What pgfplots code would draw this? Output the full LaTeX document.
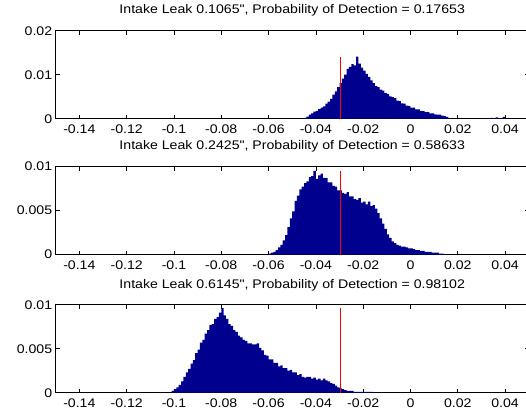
\documentclass[border=0pt]{standalone}
\usepackage{fontspec}
\setmainfont{Liberation Sans}
\newfontfamily\figfont[FakeStretch=1.13]{Liberation Sans}
\usepackage{pgfplots}
\pgfplotsset{compat=1.18}
\usepackage{pgfplotstable}

\definecolor{histblue}{RGB}{0,0,143}

% residual histograms, bin width 0.001 (left bin edge, relative frequency)
\pgfplotstableread{
x y
-0.045 0.0002
-0.044 0.0005
-0.043 0.0009
-0.042 0.0012
-0.041 0.0016
-0.040 0.0018
-0.039 0.0022
-0.038 0.0025
-0.037 0.0028
-0.036 0.0034
-0.035 0.0039
-0.034 0.0045
-0.033 0.0055
-0.032 0.0062
-0.031 0.0072
-0.030 0.0081
-0.029 0.0091
-0.028 0.0100
-0.027 0.0113
-0.026 0.0118
-0.025 0.0124
-0.024 0.0121
-0.023 0.0141
-0.022 0.0125
-0.021 0.0116
-0.020 0.0109
-0.019 0.0102
-0.018 0.0095
-0.017 0.0087
-0.016 0.0081
-0.015 0.0074
-0.014 0.0072
-0.013 0.0066
-0.012 0.0064
-0.011 0.0058
-0.010 0.0056
-0.009 0.0051
-0.008 0.0049
-0.007 0.0047
-0.006 0.0041
-0.005 0.0040
-0.004 0.0035
-0.003 0.0034
-0.002 0.0030
-0.001 0.0029
0.000 0.0025
0.001 0.0025
0.002 0.0021
0.003 0.0021
0.004 0.0018
0.005 0.0017
0.006 0.0015
0.007 0.0015
0.008 0.0012
0.009 0.0012
0.010 0.0010
0.011 0.0009
0.012 0.0009
0.013 0.0007
0.014 0.0006
0.015 0.0004
0.016 0
}\leakA

\pgfplotstableread{
x y
0.031 0
0.032 0.0001
0.033 0
0.034 0.0002
0.035 0.0001
0.036 0.0003
0.037 0.0001
0.038 0
0.039 0.0004
0.040 0
}\leakAtail

\pgfplotstableread{
x y
-0.060 0.0001
-0.059 0.0002
-0.058 0.0003
-0.057 0.0005
-0.056 0.0008
-0.055 0.0011
-0.054 0.0016
-0.053 0.0022
-0.052 0.0031
-0.051 0.0041
-0.050 0.0049
-0.049 0.0061
-0.048 0.0067
-0.047 0.0074
-0.046 0.0077
-0.045 0.0081
-0.044 0.0083
-0.043 0.0088
-0.042 0.0089
-0.041 0.0095
-0.040 0.0086
-0.039 0.0090
-0.038 0.0092
-0.037 0.0087
-0.036 0.0087
-0.035 0.0082
-0.034 0.0082
-0.033 0.0078
-0.032 0.0077
-0.031 0.0073
-0.030 0.0073
-0.029 0.0070
-0.028 0.0069
-0.027 0.0071
-0.026 0.0066
-0.025 0.0066
-0.024 0.0063
-0.023 0.0062
-0.022 0.0064
-0.021 0.0059
-0.020 0.0060
-0.019 0.0057
-0.018 0.0060
-0.017 0.0055
-0.016 0.0056
-0.015 0.0052
-0.014 0.0047
-0.013 0.0041
-0.012 0.0035
-0.011 0.0029
-0.010 0.0023
-0.009 0.0019
-0.008 0.0015
-0.007 0.0013
-0.006 0.0011
-0.005 0.0010
-0.004 0.0009
-0.003 0.0009
-0.002 0.0008
-0.001 0.0007
0.000 0.0007
0.001 0.0006
0.002 0.0005
0.003 0.0005
0.004 0.0004
0.005 0.0004
0.006 0.0003
0.007 0.0003
0.008 0.0003
0.009 0.0002
0.010 0.0002
0.011 0.0002
0.012 0.0001
0.013 0.0001
0.014 0
}\leakB

\pgfplotstableread{
x y
-0.101 0.0002
-0.100 0.0004
-0.099 0.0006
-0.098 0.0009
-0.097 0.0013
-0.096 0.0018
-0.095 0.0023
-0.094 0.0027
-0.093 0.0033
-0.092 0.0037
-0.091 0.0045
-0.090 0.0049
-0.089 0.0057
-0.088 0.0060
-0.087 0.0067
-0.086 0.0071
-0.085 0.0077
-0.084 0.0078
-0.083 0.0084
-0.082 0.0086
-0.081 0.0091
-0.080 0.0096
-0.079 0.0088
-0.078 0.0084
-0.077 0.0078
-0.076 0.0076
-0.075 0.0071
-0.074 0.0069
-0.073 0.0065
-0.072 0.0063
-0.071 0.0060
-0.070 0.0059
-0.069 0.0056
-0.068 0.0056
-0.067 0.0055
-0.066 0.0055
-0.065 0.0056
-0.064 0.0051
-0.063 0.0048
-0.062 0.0043
-0.061 0.0042
-0.060 0.0038
-0.059 0.0038
-0.058 0.0034
-0.057 0.0034
-0.056 0.0030
-0.055 0.0031
-0.054 0.0028
-0.053 0.0028
-0.052 0.0025
-0.051 0.0026
-0.050 0.0023
-0.049 0.0023
-0.048 0.0020
-0.047 0.0021
-0.046 0.0018
-0.045 0.0017
-0.044 0.0018
-0.043 0.0018
-0.042 0.0016
-0.041 0.0017
-0.040 0.0015
-0.039 0.0016
-0.038 0.0014
-0.037 0.0016
-0.036 0.0014
-0.035 0.0013
-0.034 0.0011
-0.033 0.0010
-0.032 0.0008
-0.031 0.0006
-0.030 0.0005
-0.029 0.0004
-0.028 0.0003
-0.027 0.0002
-0.026 0.0002
-0.025 0.0002
-0.024 0.0001
-0.023 0.0001
-0.022 0.0001
-0.021 0.0001
-0.020 0.0001
-0.019 0.0001
-0.018 0.0001
-0.017 0.0001
-0.016 0
}\leakC

\pgfplotsset{
  leakaxis/.style={
    scale only axis,
    width=473pt, height=88pt,
    anchor=south west,
    xmin=-0.15, xmax=0.05, ymin=0,
    xtick={-0.14,-0.12,-0.1,-0.08,-0.06,-0.04,-0.02,0,0.02,0.04},
    scaled ticks=false,
    axis line style={black, line width=0.6pt},
    tick style={black, line width=0.6pt},
    major tick length=4pt,
    ticklabel style={font=\figfont\fontsize{12.5}{14}\selectfont,
      /pgf/number format/fixed,
      /pgf/number format/precision=3,
      /pgf/number format/assume math mode=true},
    xticklabel style={anchor=base, yshift=-14.6pt},
    yticklabel style={xshift=0pt},
    title style={anchor=base, yshift=10.7pt, font=\figfont\fontsize{12.5}{14}\selectfont},
  },
  histfill/.style={const plot, fill=histblue, draw=none},
  threshold/.style={red, line width=0.8pt},
}

\begin{document}
\begin{tikzpicture}
\begin{axis}[leakaxis, at={(55.7pt,-118.7pt)},
  ymax=0.02, ytick={0,0.01,0.02},
  title={Intake Leak 0.1065", Probability of Detection = 0.17653}]
  \addplot[histfill] table[x=x, y=y] {\leakA} \closedcycle;
  \addplot[histfill] table[x=x, y=y] {\leakAtail} \closedcycle;
  \addplot[threshold] coordinates {(-0.0297,0) (-0.0297,0.0141)};
\end{axis}

\begin{axis}[leakaxis, at={(55.7pt,-254.5pt)},
  ymax=0.01, ytick={0,0.005,0.01},
  title={Intake Leak 0.2425", Probability of Detection = 0.58633}]
  \addplot[histfill] table[x=x, y=y] {\leakB} \closedcycle;
  \addplot[threshold] coordinates {(-0.0297,0) (-0.0297,0.0095)};
\end{axis}

\begin{axis}[leakaxis, at={(55.7pt,-392.7pt)},
  ymax=0.01, ytick={0,0.005,0.01},
  title={Intake Leak 0.6145", Probability of Detection = 0.98102}]
  \addplot[histfill] table[x=x, y=y] {\leakC} \closedcycle;
  \addplot[threshold] coordinates {(-0.0297,0) (-0.0297,0.0096)};
\end{axis}

\pgfresetboundingbox
\path[use as bounding box] (0,0) rectangle (526pt,-415pt);
\end{tikzpicture}
\end{document}
